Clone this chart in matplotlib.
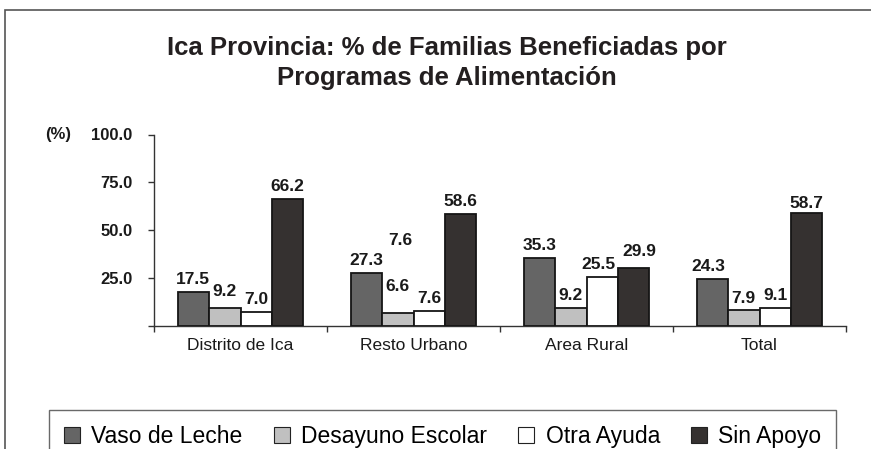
import matplotlib
matplotlib.use("Agg")
import matplotlib.pyplot as plt
from matplotlib.patches import Patch, Rectangle

plt.rcParams['font.family'] = ['Liberation Sans', 'DejaVu Sans']

# Data
CATEGORIES = ["Distrito de Ica", "Resto Urbano", "Area Rural", "Total"]
SERIES = ["Vaso de Leche", "Desayuno Escolar", "Otra Ayuda", "Sin Apoyo"]
VASO_DE_LECHE = [17.5, 27.3, 35.3, 24.3]
DESAYUNO_ESCOLAR = [9.2, 6.6, 9.2, 7.9]
OTRA_AYUDA = [7.0, 7.6, 25.5, 9.1]
SIN_APOYO = [66.2, 58.6, 29.9, 58.7]
Y_TICKS = [25, 50, 75, 100]

COLORS = ["#656565", "#c0c0c0", "#ffffff", "#353130"]
TEXT = "#1a1a1a"

# extra shift (points) for a few value labels, as placed in the original
NUDGE = {(1, 1): (0, 10), (0, 1): (0, 3), (2, 2): (-3, 0), (2, 3): (4, 3),
         (3, 0): (-3, 0), (3, 3): (0, -2)}


def main():
    fig = plt.figure(figsize=(8.71, 4.49), dpi=100)

    # outer frame (right and bottom edges run off the picture)
    fig.patches.append(Rectangle((5 / 871, -0.1), 1.2, 1.1 - 10 / 449,
                                 transform=fig.transFigure, fill=False,
                                 edgecolor="#555555", linewidth=1.2))

    ax = fig.add_axes([154 / 871, 1 - 325.5 / 449, 692 / 871, 191 / 449])

    values = [VASO_DE_LECHE, DESAYUNO_ESCOLAR, OTRA_AYUDA, SIN_APOYO]
    bw = 0.182
    x = range(len(CATEGORIES))
    for i, (name, vals, col) in enumerate(zip(SERIES, values, COLORS)):
        pos = [c + (i - 1.5) * bw for c in x]
        bars = ax.bar(pos, vals, bw, color=col, edgecolor="#151515",
                      linewidth=1.3, label=name, zorder=3)
        for j, b in enumerate(bars):
            dx, dy = NUDGE.get((j, i), (0, 0))
            ax.annotate(f"{vals[j]:.1f}", (b.get_x() + b.get_width() / 2, b.get_height()),
                        xytext=(dx, 3.5 + dy), textcoords="offset points",
                        ha="center", va="bottom", fontsize=12.5,
                        fontweight="bold", color=TEXT)

    # stray duplicate label that sits above the Resto Urbano bars
    ax.annotate(f"{OTRA_AYUDA[1]:.1f}", (1 - 0.5 * bw, DESAYUNO_ESCOLAR[1]),
                xytext=(2, 47), textcoords="offset points",
                ha="center", va="bottom", fontsize=12.5,
                fontweight="bold", color=TEXT)

    ax.set_xlim(-0.5, 3.5)
    ax.set_ylim(0, 100)
    ax.set_yticks([0] + Y_TICKS)
    ax.set_yticklabels([""] + [f"{t:.1f}" for t in Y_TICKS])
    ax.set_xticks(list(x))
    ax.set_xticklabels(CATEGORIES, fontsize=12.5, color=TEXT)
    ax.set_xticks([-0.5, 0.5, 1.5, 2.5, 3.5], minor=True)
    ax.tick_params(axis="x", which="major", length=0, pad=9)
    ax.tick_params(axis="x", which="minor", length=4.5, width=1, color="#333333")
    ax.tick_params(axis="y", length=4.5, width=1, color="#333333", pad=11,
                   labelsize=12, labelcolor=TEXT)
    for lab in ax.get_yticklabels():
        lab.set_fontweight("bold")
    for side in ["top", "right"]:
        ax.spines[side].set_visible(False)
    for side in ["left", "bottom"]:
        ax.spines[side].set_color("#333333")
        ax.spines[side].set_linewidth(1)

    fig.text(58 / 871, 1 - 135 / 449, "(%)", ha="center", va="center",
             fontsize=12, fontweight="bold", color=TEXT)

    fig.text(447 / 871, 1 - 63 / 449,
             "Ica Provincia: % de Familias Beneficiadas por\nProgramas de Alimentación",
             ha="center", va="center", fontsize=18.5, fontweight="bold",
             color="#231f20", linespacing=1.3)

    handles = [Patch(facecolor=c, edgecolor="#222222", linewidth=0.8) for c in COLORS]
    leg = fig.legend(handles, SERIES, loc="upper left",
                     bbox_to_anchor=(49 / 871, 1 - 410 / 449),
                     ncol=4, frameon=True, fancybox=False, fontsize=16.5,
                     handlelength=0.7, handleheight=0.7, handletextpad=0.5,
                     columnspacing=1.35, borderpad=0.65, borderaxespad=0)
    leg.get_frame().set_edgecolor("#444444")
    leg.get_frame().set_linewidth(1)

    fig.savefig("out.png", dpi=100)


if __name__ == "__main__":
    main()
